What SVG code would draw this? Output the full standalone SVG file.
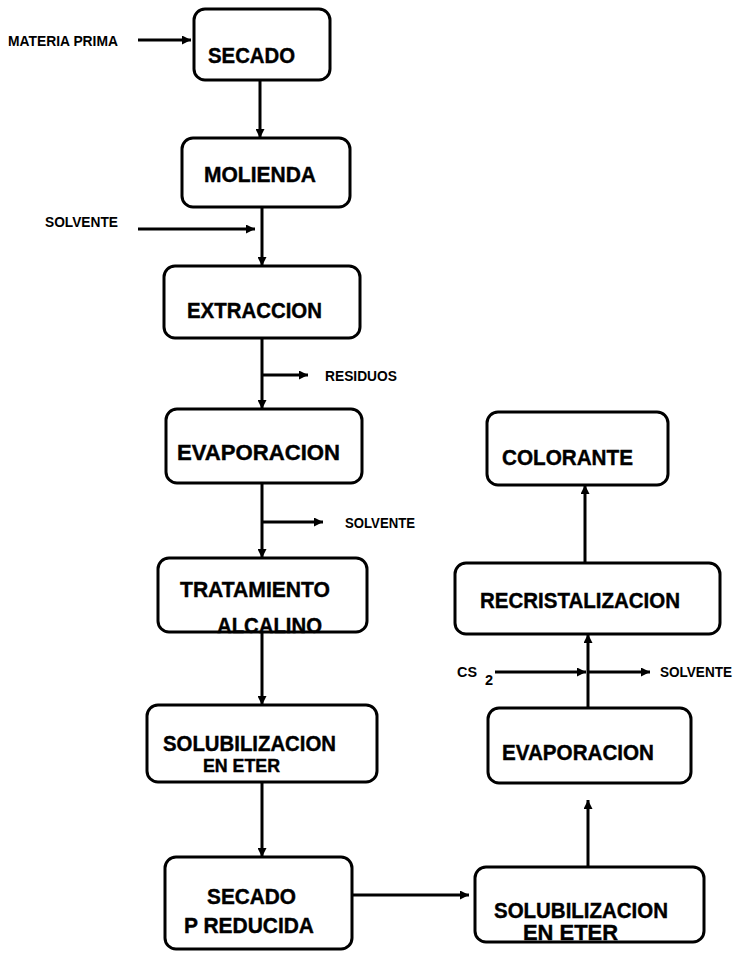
<svg xmlns="http://www.w3.org/2000/svg" width="737" height="956" viewBox="0 0 737 956">
  <defs>
    <marker id="arrow" viewBox="0 0 10 10" refX="10" refY="5" markerWidth="10" markerHeight="9" markerUnits="userSpaceOnUse" orient="auto">
      <path d="M0,0 L10,5 L0,10 z" fill="#000"/>
    </marker>
    <style>
      .box { fill: none; stroke: #000; stroke-width: 3; }
      .node { font-family: "Liberation Sans", Arial, sans-serif; font-weight: bold; font-size: 21.5px; fill: #000; stroke: #000; stroke-width: 0.4; }
      .sub { font-size: 18px; }
      .label { font-family: "Liberation Sans", Arial, sans-serif; font-weight: bold; font-size: 14.5px; fill: #000; }
      .flow { fill: none; stroke: #000; stroke-width: 3; }
      .arr { marker-end: url(#arrow); }
    </style>
  </defs>
  <rect width="737" height="956" fill="#fff"/>

  <!-- process steps -->
  <g id="secado">
    <rect class="box" x="194" y="9" width="136" height="71" rx="11"/>
    <text class="node" x="208" y="63" textLength="87" lengthAdjust="spacingAndGlyphs">SECADO</text>
  </g>
  <g id="molienda">
    <rect class="box" x="182" y="138" width="168" height="69" rx="11"/>
    <text class="node" x="204" y="182" textLength="112" lengthAdjust="spacingAndGlyphs">MOLIENDA</text>
  </g>
  <g id="extraccion">
    <rect class="box" x="164" y="266" width="196" height="72" rx="11"/>
    <text class="node" x="187" y="318" textLength="135" lengthAdjust="spacingAndGlyphs">EXTRACCION</text>
  </g>
  <g id="evaporacion-1">
    <rect class="box" x="166" y="409" width="196" height="74" rx="11"/>
    <text class="node" x="177" y="460" textLength="163" lengthAdjust="spacingAndGlyphs">EVAPORACION</text>
  </g>
  <g id="tratamiento">
    <text class="node" x="180" y="597" textLength="150" lengthAdjust="spacingAndGlyphs">TRATAMIENTO</text>
    <!-- second line sits on the bottom edge; the border runs through its foot -->
    <text class="node" x="217" y="633" textLength="105" lengthAdjust="spacingAndGlyphs">ALCALINO</text>
    <rect class="box" x="158" y="558" width="209" height="74" rx="11"/>
  </g>
  <g id="solubilizacion-1">
    <rect class="box" x="147" y="705" width="230" height="77" rx="11"/>
    <text class="node" x="163" y="751" textLength="173" lengthAdjust="spacingAndGlyphs">SOLUBILIZACION</text>
    <text class="node sub" x="203" y="772" textLength="77" lengthAdjust="spacingAndGlyphs">EN ETER</text>
  </g>
  <g id="secado-p-reducida">
    <rect class="box" x="165" y="857" width="187" height="92" rx="11"/>
    <text class="node" x="207" y="904" textLength="89" lengthAdjust="spacingAndGlyphs">SECADO</text>
    <text class="node" x="184" y="933" textLength="130" lengthAdjust="spacingAndGlyphs">P REDUCIDA</text>
  </g>
  <g id="solubilizacion-2">
    <rect class="box" x="475" y="867" width="229" height="75" rx="11"/>
    <text class="node" x="494" y="918" textLength="174" lengthAdjust="spacingAndGlyphs">SOLUBILIZACION</text>
    <text class="node" x="523" y="940" textLength="95" lengthAdjust="spacingAndGlyphs">EN ETER</text>
  </g>
  <g id="evaporacion-2">
    <rect class="box" x="488" y="708" width="203" height="75" rx="11"/>
    <text class="node" x="502" y="760" textLength="152" lengthAdjust="spacingAndGlyphs">EVAPORACION</text>
  </g>
  <g id="recristalizacion">
    <rect class="box" x="455" y="563" width="265" height="71" rx="11"/>
    <text class="node" x="480" y="608" textLength="200" lengthAdjust="spacingAndGlyphs">RECRISTALIZACION</text>
  </g>
  <g id="colorante">
    <rect class="box" x="487" y="412" width="181" height="73" rx="11"/>
    <text class="node" x="502" y="465" textLength="131" lengthAdjust="spacingAndGlyphs">COLORANTE</text>
  </g>

  <!-- inputs and outputs -->
  <g id="stream-labels">
    <text class="label" x="8" y="46" textLength="110" lengthAdjust="spacingAndGlyphs">MATERIA PRIMA</text>
    <text class="label" x="45" y="227" textLength="73" lengthAdjust="spacingAndGlyphs">SOLVENTE</text>
    <text class="label" x="325" y="381" textLength="72" lengthAdjust="spacingAndGlyphs">RESIDUOS</text>
    <text class="label" x="345" y="528" textLength="70" lengthAdjust="spacingAndGlyphs">SOLVENTE</text>
    <text class="label" x="457" y="677" textLength="20" lengthAdjust="spacingAndGlyphs">CS</text>
    <text class="label" x="485" y="685" font-size="10">2</text>
    <text class="label" x="660" y="677" textLength="72" lengthAdjust="spacingAndGlyphs">SOLVENTE</text>
  </g>

  <!-- connectors -->
  <g id="connectors">
    <line class="flow arr" x1="138" y1="40" x2="191" y2="40"/>
    <line class="flow arr" x1="260" y1="80" x2="260" y2="138"/>
    <line class="flow arr" x1="138" y1="229" x2="255" y2="229"/>
    <line class="flow arr" x1="262" y1="207" x2="262" y2="266"/>
    <line class="flow arr" x1="262" y1="338" x2="262" y2="409"/>
    <line class="flow arr" x1="262" y1="375" x2="308" y2="375"/>
    <line class="flow arr" x1="262" y1="483" x2="262" y2="558"/>
    <line class="flow arr" x1="262" y1="522" x2="323" y2="522"/>
    <line class="flow arr" x1="262" y1="632" x2="262" y2="705"/>
    <line class="flow arr" x1="262" y1="782" x2="262" y2="857"/>
    <line class="flow arr" x1="352" y1="895" x2="469" y2="895"/>
    <line class="flow arr" x1="588" y1="867" x2="588" y2="800"/>
    <line class="flow arr" x1="588" y1="708" x2="588" y2="634"/>
    <line class="flow arr" x1="495" y1="672" x2="586" y2="672"/>
    <line class="flow arr" x1="588" y1="672" x2="650" y2="672"/>
    <line class="flow arr" x1="585" y1="563" x2="585" y2="485"/>
  </g>
</svg>
